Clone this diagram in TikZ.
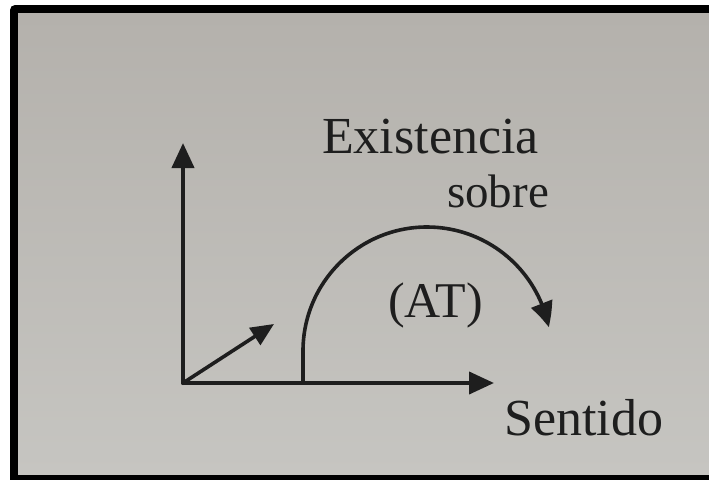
\documentclass[tikz,border=0pt]{standalone}
\usepackage{fontspec}
\setmainfont{Liberation Serif}
\usepackage{xcolor}
\usepackage{tikz}
\usetikzlibrary{positioning,arrows.meta,bending}
\definecolor{paperTop}{HTML}{B4B1AC}
\definecolor{paperBottom}{HTML}{C6C5C1}
\definecolor{ink}{HTML}{1E1E1E}
\tikzset{
  axis/.style={-{Triangle[length=25pt,width=22pt]}, line width=4pt, draw=ink, line cap=round},
  every node/.style={anchor=center}
}

\begin{document}
\begin{tikzpicture}[
  x=1pt, y=-1pt,
  word/.style={font=\fontsize{52}{52}\selectfont, text=ink, inner sep=0pt, anchor=base west},
  small/.style={word, font=\fontsize{47}{47}\selectfont},
  shortaxis/.style={axis, line width=3.6pt, -{Triangle[length=23pt,width=20pt]}},
  turn/.style={-{Triangle[length=25pt,width=22pt,bend]}, line width=3.6pt, draw=ink}
]
\useasboundingbox (0,0) rectangle (709,479);
\fill[white] (0,0) rectangle (709,479);
\fill[black, rounded corners=5pt] (10,5) rectangle (740,510);
\shade[top color=paperTop, bottom color=paperBottom] (18,13) rectangle (709,474);

\coordinate (orig) at (183,383);
\coordinate (ytip) at (183,143);
\coordinate (xtip) at (494,383);
\coordinate (vtip) at (274,324);
\coordinate (foot) at (303,383);

\node[word] (exist) at (322,153) {Existencia};
\node[small] (sobre) at (447,207) {sobre};
\node[word, font=\fontsize{50}{50}\selectfont] (at) at (388,317) {(AT)};
\node[word] (sent) at (504,435) {Sentido};

\draw[axis] (orig) -- (ytip);
\draw[axis] (orig) -- (xtip);
\draw[shortaxis] (orig) -- (vtip);
\draw[turn] (foot) -- ++(0,-32) arc[start angle=180, end angle=349, radius=124];
\end{tikzpicture}
\end{document}
